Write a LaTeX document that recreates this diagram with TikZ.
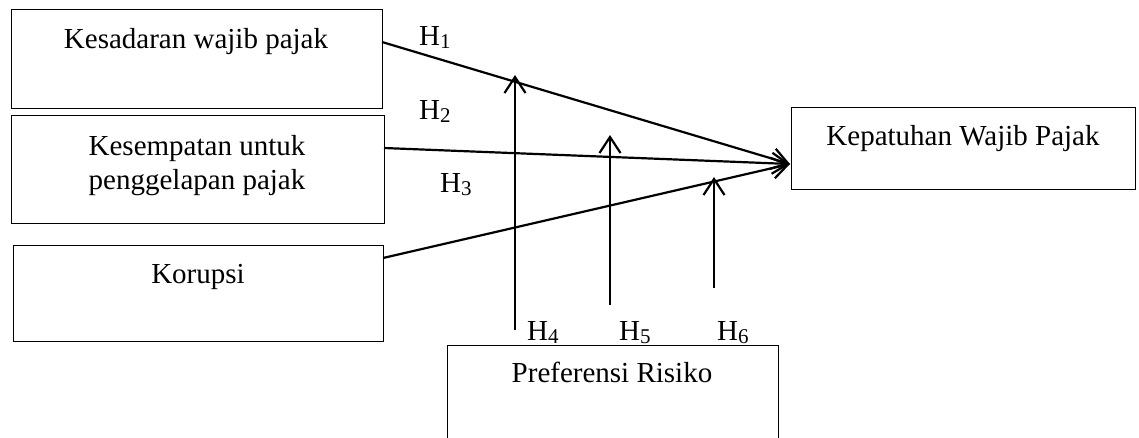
\documentclass[tikz,border=0pt]{standalone}
\usepackage{fontspec}
\setmainfont{Liberation Serif}
\usetikzlibrary{arrows.meta,calc}
\newcommand{\hyp}[1]{H\raisebox{-3.5pt}{\fontsize{21}{21}\selectfont #1}}
\begin{document}
\begin{tikzpicture}[x=1pt,y=-1pt,
  box/.style={draw,line width=1.3pt,rectangle,inner sep=0pt,anchor=north west},
  txt/.style={anchor=base,inner sep=0pt,font=\fontsize{29}{35}\selectfont},
  hlab/.style={anchor=base west,inner sep=0pt,font=\fontsize{29}{35}\selectfont},
  link/.style={line width=2.2pt,-{Straight Barb[length=16pt,width=21pt,line width=2.2pt]}}]
\clip (0,0) rectangle (1139,437);
\fill[white] (0,0) rectangle (1139,437);

% boxes
\node[box,minimum width=371pt,minimum height=99pt]  (kes) at (11,9) {};
\node[box,minimum width=373pt,minimum height=108pt] (kmp) at (11,115) {};
\node[box,minimum width=370pt,minimum height=96pt]  (kor) at (13,245) {};
\node[box,minimum width=344pt,minimum height=82pt]  (kwp) at (791,107) {};
\node[box,minimum width=331pt,minimum height=110pt] (pr)  at (447,345) {};

% box texts
\node[txt] (tkes)  at (196,48)  {Kesadaran wajib pajak};
\node[txt] (tkmp1) at (197,155) {Kesempatan untuk};
\node[txt] (tkmp2) at (197,189) {penggelapan pajak};
\node[txt] (tkor)  at (198,283) {Korupsi};
\node[txt] (tkwp)  at (963,145) {Kepatuhan Wajib Pajak};
\node[txt] (tpr)   at (612,382) {Preferensi Risiko};

% connector end points
\coordinate (s1) at (382,42);
\coordinate (s2) at (384,148);
\coordinate (s3) at (383,258);
\coordinate (t)  at (790,164);
\coordinate (m4) at (515,330);
\coordinate (e4) at (515,75);
\coordinate (m5) at (610,305);
\coordinate (e5) at (610,135);
\coordinate (m6) at (714,288);
\coordinate (e6) at (714,177);

% direct effects
\draw[link] (s1) -- (t);
\draw[link] (s2) -- (t);
\draw[link] (s3) -- (t);

% moderating effects
\draw[link] (m4) -- (e4);
\draw[link] (m5) -- (e5);
\draw[link] (m6) -- (e6);

% hypothesis labels
\node[hlab] (h1) at (419,45)  {\hyp{1}};
\node[hlab] (h2) at (419,119) {\hyp{2}};
\node[hlab] (h3) at (440,192) {\hyp{3}};
\node[hlab] (h4) at (527,340) {\hyp{4}};
\node[hlab] (h5) at (619,340) {\hyp{5}};
\node[hlab] (h6) at (717,340) {\hyp{6}};
\end{tikzpicture}
\end{document}
